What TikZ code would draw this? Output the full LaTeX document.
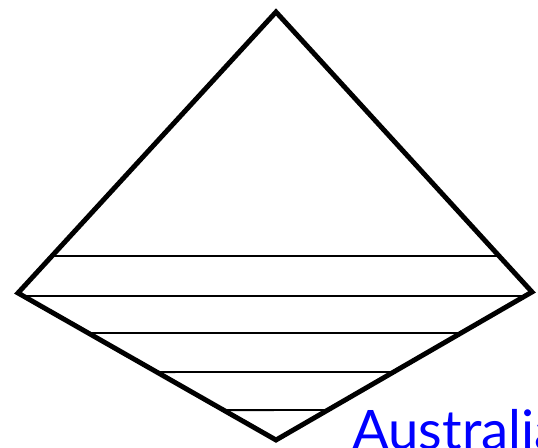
\documentclass[tikz,border=0pt]{standalone}
\usepackage{fontspec}
\usepackage{xcolor}
\usepackage{tikz}
\newfontfamily\labelfont{Lato}
\definecolor{bluex}{HTML}{0000FF}
\tikzset{
  rim/.style={line width=2.8pt,black,line join=miter},
  rung/.style={line width=1.1pt,black},
  tag/.style={font=\labelfont\fontsize{31}{31}\selectfont,text=bluex,inner sep=0pt}
}
\begin{document}
\begin{tikzpicture}[x=0.02cm,y=-0.02cm]
\useasboundingbox (0,0) rectangle (538,448);
% corners of the diamond
\coordinate (T) at (276,12);
\coordinate (L) at (18,293);
\coordinate (R) at (532,292);
\coordinate (B) at (276,440);
% cross lines
\draw[rung] (intersection of L--T and 0,256--1,256) -- (intersection of R--T and 0,256--1,256);
\foreach \y in {296,333,372,410}
  \draw[rung] (intersection of L--B and 0,\y--1,\y) -- (intersection of R--B and 0,\y--1,\y);
\draw[rim] (T) -- (R) -- (B) -- (L) -- cycle;
\node[tag,anchor=base west] (country) at (352,450) {Australia};
\end{tikzpicture}
\end{document}
